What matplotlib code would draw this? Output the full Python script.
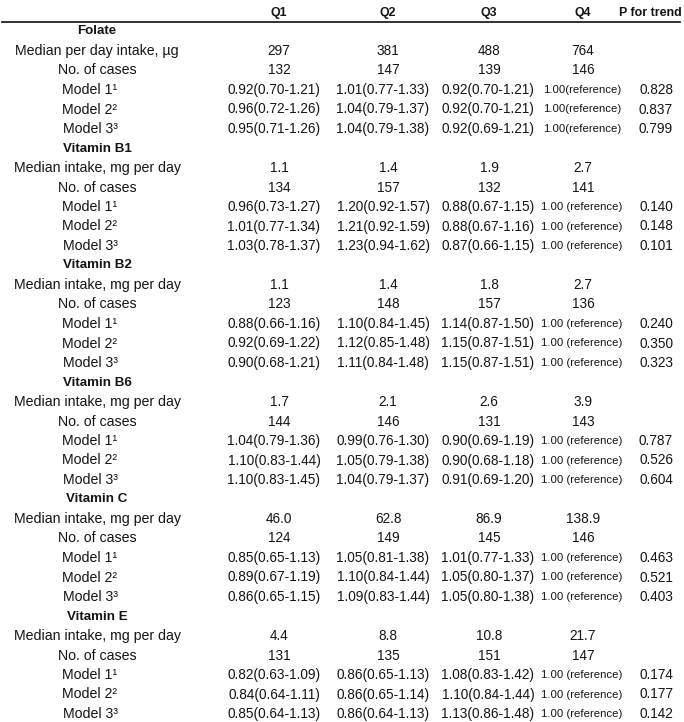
import matplotlib
matplotlib.use("Agg")
import matplotlib.pyplot as plt

header = ["Q1", "Q2", "Q3", "Q4", "P for trend"]
nutrients = ["Folate", "Vitamin B1", "Vitamin B2", "Vitamin B6", "Vitamin C", "Vitamin E"]
median_labels = ["Median per day intake, \u00b5g"] + ["Median intake, mg per day"] * 5
medians = [
    ["297", "381", "488", "764"],
    ["1.1", "1.4", "1.9", "2.7"],
    ["1.1", "1.4", "1.8", "2.7"],
    ["1.7", "2.1", "2.6", "3.9"],
    ["46.0", "62.8", "86.9", "138.9"],
    ["4.4", "8.8", "10.8", "21.7"],
]
cases = [
    [132, 147, 139, 146],
    [134, 157, 132, 141],
    [123, 148, 157, 136],
    [144, 146, 131, 143],
    [124, 149, 145, 146],
    [131, 135, 151, 147],
]
model_labels = ["Model 1\u00b9", "Model 2\u00b2", "Model 3\u00b3"]
folate_models = [
    ["0.92(0.70-1.21)", "1.01(0.77-1.33)", "0.92(0.70-1.21)"],
    ["0.96(0.72-1.26)", "1.04(0.79-1.37)", "0.92(0.70-1.21)"],
    ["0.95(0.71-1.26)", "1.04(0.79-1.38)", "0.92(0.69-1.21)"],
]
b1_models = [
    ["0.96(0.73-1.27)", "1.20(0.92-1.57)", "0.88(0.67-1.15)"],
    ["1.01(0.77-1.34)", "1.21(0.92-1.59)", "0.88(0.67-1.16)"],
    ["1.03(0.78-1.37)", "1.23(0.94-1.62)", "0.87(0.66-1.15)"],
]
b2_models = [
    ["0.88(0.66-1.16)", "1.10(0.84-1.45)", "1.14(0.87-1.50)"],
    ["0.92(0.69-1.22)", "1.12(0.85-1.48)", "1.15(0.87-1.51)"],
    ["0.90(0.68-1.21)", "1.11(0.84-1.48)", "1.15(0.87-1.51)"],
]
b6_models = [
    ["1.04(0.79-1.36)", "0.99(0.76-1.30)", "0.90(0.69-1.19)"],
    ["1.10(0.83-1.44)", "1.05(0.79-1.38)", "0.90(0.68-1.18)"],
    ["1.10(0.83-1.45)", "1.04(0.79-1.37)", "0.91(0.69-1.20)"],
]
c_models = [
    ["0.85(0.65-1.13)", "1.05(0.81-1.38)", "1.01(0.77-1.33)"],
    ["0.89(0.67-1.19)", "1.10(0.84-1.44)", "1.05(0.80-1.37)"],
    ["0.86(0.65-1.15)", "1.09(0.83-1.44)", "1.05(0.80-1.38)"],
]
e_models = [
    ["0.82(0.63-1.09)", "0.86(0.65-1.13)", "1.08(0.83-1.42)"],
    ["0.84(0.64-1.11)", "0.86(0.65-1.14)", "1.10(0.84-1.44)"],
    ["0.85(0.64-1.13)", "0.86(0.64-1.13)", "1.13(0.86-1.48)"],
]
all_models = [folate_models, b1_models, b2_models, b6_models, c_models, e_models]
reference_text = ["1.00(reference)"] + ["1.00 (reference)"] * 5
p_trend = [
    ["0.828", "0.837", "0.799"],
    ["0.140", "0.148", "0.101"],
    ["0.240", "0.350", "0.323"],
    ["0.787", "0.526", "0.604"],
    ["0.463", "0.521", "0.403"],
    ["0.174", "0.177", "0.142"],
]

plt.rcParams['font.family'] = ['Liberation Sans', 'DejaVu Sans']
W, H = 684, 722
fig = plt.figure(figsize=(W / 100, H / 100), dpi=100)
ax = fig.add_axes([0, 0, 1, 1])
ax.set_xlim(0, W)
ax.set_ylim(H, 0)
ax.axis("off")

fs_val = 9.8
fs_lab = 10.2
fs_head = 8.9
fs_name = 9.6
fs_ref = 8.2
col_x = [279, 388, 489, 583, 650]
model_x = [274, 383, 488, 582, 656]
label_x = 97
model_label_x = 90
tc = "#151515"

for x, h in zip(col_x, header):
    ax.text(x, 13, h, ha="center", va="center", fontsize=fs_head, fontweight="bold", color=tc)
ax.plot([2, 680], [22, 22], color="#222222", lw=1.3)

y0, dy = 31.5, 19.5
row = 0
for i, name in enumerate(nutrients):
    y = y0 + row * dy
    ax.text(label_x, y, name, ha="center", va="center", fontsize=fs_name, fontweight="bold", color=tc)
    row += 1
    y = y0 + row * dy
    ax.text(label_x, y, median_labels[i], ha="center", va="center", fontsize=fs_lab, color=tc)
    for j in range(4):
        ax.text(col_x[j], y, medians[i][j], ha="center", va="center", fontsize=fs_val, color=tc)
    row += 1
    y = y0 + row * dy
    ax.text(label_x, y, "No. of cases", ha="center", va="center", fontsize=fs_lab, color=tc)
    for j in range(4):
        ax.text(col_x[j], y, str(cases[i][j]), ha="center", va="center", fontsize=fs_val, color=tc)
    row += 1
    for m in range(3):
        y = y0 + row * dy
        ax.text(model_label_x, y, model_labels[m], ha="center", va="center", fontsize=fs_lab, color=tc)
        for j in range(3):
            ax.text(model_x[j], y, all_models[i][m][j], ha="center", va="center", fontsize=fs_val, color=tc)
        ax.text(model_x[3], y, reference_text[i], ha="center", va="center", fontsize=fs_ref, color=tc)
        ax.text(model_x[4], y, p_trend[i][m], ha="center", va="center", fontsize=fs_val, color=tc)
        row += 1

fig.savefig("out.png", dpi=100)
